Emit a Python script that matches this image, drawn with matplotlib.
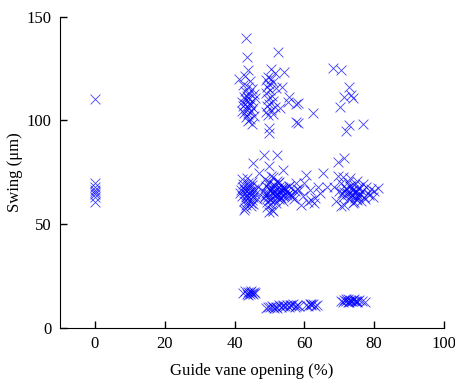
import matplotlib
matplotlib.use("Agg")
import matplotlib.pyplot as plt

# data (guide vane opening %, swing um)
x_zero = [0, 0, 0, 0, 0, 0, 0, 0]
y_zero = [110.5, 70.0, 68.0, 66.5, 65.5, 64.5, 63.0, 60.5]

x_high_a = [43.3, 43.5, 44.0, 41.2, 43.0, 44.5, 42.5, 43.8, 45.0, 43.0,
            44.2, 45.5, 42.8, 44.0, 43.2, 45.0, 44.5, 43.0, 42.5, 44.0,
            45.2, 43.5, 44.8, 42.8, 44.0, 45.5, 43.2, 44.5, 43.8, 45.0,
            42.0, 46.0, 43.6, 44.3, 42.2]
y_high_a = [139.9, 130.4, 124.5, 120.0, 121.5, 119.0, 117.0, 116.0, 115.2, 114.0,
            113.0, 112.5, 111.5, 110.8, 110.0, 109.5, 108.5, 108.0, 107.0, 106.5,
            106.0, 105.0, 104.5, 103.5, 103.0, 102.0, 101.5, 100.5, 99.5, 98.5,
            109.0, 111.0, 112.0, 107.5, 104.5]

x_high_b = [50.5, 51.5, 49.5, 50.5, 49.0, 51.0, 50.0, 49.3, 51.8, 50.2,
            49.0, 50.6, 49.5, 51.0, 50.0, 49.2, 51.5, 50.4, 49.0, 51.0,
            49.5, 50.0, 49.8, 52.4, 52.9, 53.7, 54.3, 55.2, 55.7, 57.6,
            57.6, 58.1, 62.4, 58.1]
y_high_b = [125.0, 123.0, 121.0, 120.0, 119.5, 118.5, 117.5, 116.0, 115.5, 114.5,
            113.0, 112.0, 110.5, 109.5, 108.0, 107.0, 106.5, 105.0, 104.0, 103.0,
            102.6, 96.2, 94.0, 132.8, 106.0, 116.0, 123.5, 109.0, 111.4, 108.0,
            99.4, 108.2, 103.4, 98.6]

x_high_c = [68.1, 70.5, 72.9, 71.5, 73.4, 73.8, 70.3, 72.9, 71.8, 76.9, 69.6, 71.5]
y_high_c = [125.4, 124.3, 116.3, 111.4, 112.3, 111.0, 106.6, 97.8, 94.9, 98.1, 80.0, 81.7]

x_mid_a = [41.5, 42.0, 42.3, 42.8, 43.0, 43.2, 43.5, 43.8, 44.0, 44.2,
           44.5, 44.8, 45.0, 45.3, 45.6, 46.0, 46.4, 42.2, 42.6, 43.1,
           43.6, 44.1, 44.6, 45.1, 45.7, 42.9, 43.4, 44.3, 44.9, 45.4,
           41.8, 46.8, 43.7, 44.7, 42.4]
y_mid_a = [65.0, 63.5, 68.0, 61.0, 66.5, 59.0, 64.0, 70.0, 62.5, 67.5,
           65.5, 60.0, 69.0, 63.0, 66.0, 64.5, 62.0, 71.5, 66.8, 57.5,
           72.0, 68.5, 58.5, 61.5, 67.0, 64.8, 62.8, 65.8, 70.5, 59.8,
           66.2, 67.8, 60.8, 63.8, 69.5]

x_mid_b = [48.2, 48.6, 49.0, 49.3, 49.6, 50.0, 50.3, 50.6, 51.0, 51.3,
           51.6, 52.0, 52.3, 52.6, 53.0, 53.4, 53.8, 54.2, 54.6, 55.0,
           55.5, 56.0, 48.8, 49.4, 49.9, 50.4, 50.9, 51.4, 51.9, 52.4,
           52.9, 53.5, 54.0, 54.8, 55.6, 49.1, 49.7, 50.2, 50.8, 51.2,
           51.8, 52.2, 52.8, 53.2, 53.9, 54.4, 49.5, 50.1, 50.7, 51.5,
           52.5, 53.6, 48.5, 51.1, 52.7, 50.5, 56.5, 57.2]
y_mid_b = [66.0, 63.5, 68.5, 60.5, 65.0, 70.5, 62.0, 67.0, 64.5, 69.0,
           61.5, 66.5, 63.0, 68.0, 65.5, 62.5, 67.5, 64.0, 66.8, 63.8,
           65.2, 64.2, 71.5, 58.0, 67.2, 59.5, 72.5, 65.8, 60.2, 69.8,
           63.2, 67.8, 61.0, 65.4, 68.2, 64.8, 62.8, 66.2, 57.0, 68.8,
           64.6, 71.0, 62.2, 66.6, 63.6, 67.4, 69.4, 61.8, 65.6, 63.4,
           64.4, 66.4, 62.6, 56.5, 70.2, 73.0, 63.0, 66.0]

x_mid_s = [48.4, 52.2, 45.2, 50.0, 47.1, 53.8, 60.5, 42.8, 50.0, 59.0,
           62.0, 57.6, 65.3, 63.8, 62.9, 61.0, 58.6, 66.6, 56.5, 58.0,
           57.0, 60.0, 64.5, 55.5, 59.5, 61.5, 63.0]
y_mid_s = [83.3, 83.3, 79.3, 78.0, 74.5, 76.0, 73.7, 56.8, 56.0, 59.2,
           61.6, 69.7, 74.5, 68.0, 60.0, 60.8, 66.4, 68.0, 64.0, 67.0,
           62.0, 70.0, 65.0, 68.5, 63.5, 66.5, 62.5]

x_mid_c = [68.5, 69.2, 70.0, 70.6, 71.2, 71.8, 72.3, 72.8, 73.2, 73.6,
           74.0, 74.4, 74.8, 75.2, 75.6, 76.0, 76.5, 77.0, 77.6, 78.2,
           79.0, 80.0, 81.2, 71.5, 72.5, 73.0, 73.8, 74.2, 74.6, 75.0,
           75.4, 76.2, 72.0, 73.4, 74.9, 70.4, 71.0, 76.8, 77.4, 78.6,
           69.6, 72.6, 73.7, 75.8, 79.6, 71.4, 74.3, 73.1, 70.8, 75.5]
y_mid_c = [68.0, 61.0, 66.0, 70.0, 63.0, 67.5, 65.0, 62.0, 68.5, 64.0,
           66.5, 63.5, 65.5, 61.5, 67.0, 64.5, 66.0, 63.0, 68.0, 65.0,
           67.0, 66.0, 67.5, 59.0, 70.5, 72.0, 60.0, 69.0, 62.5, 71.0,
           64.0, 61.0, 66.8, 63.8, 65.8, 58.5, 72.5, 69.5, 62.0, 64.0,
           73.0, 64.6, 66.2, 67.8, 62.8, 65.4, 60.5, 68.2, 64.8, 63.2]

x_low_a = [42.5, 43.0, 43.5, 44.0, 44.3, 44.7, 45.0, 45.5, 46.0, 43.8, 44.5, 45.2]
y_low_a = [16.5, 17.5, 16.0, 17.0, 16.2, 17.8, 16.6, 17.2, 16.8, 15.8, 17.4, 16.3]

x_low_b = [49.0, 49.6, 50.2, 50.8, 51.4, 52.0, 52.6, 53.2, 53.8, 54.4,
           55.0, 55.6, 56.2, 56.8, 57.5, 58.0, 58.6, 60.5, 61.0, 61.5,
           62.0, 62.5, 63.0, 63.5, 51.0, 52.3, 54.0, 56.0, 57.2, 61.8]
y_low_b = [9.5, 10.2, 9.8, 10.5, 9.6, 10.0, 10.8, 9.9, 10.4, 10.6,
           11.0, 10.2, 10.8, 11.2, 10.5, 11.0, 10.4, 11.0, 10.6, 11.4,
           10.8, 11.2, 10.6, 11.0, 10.0, 9.7, 10.9, 11.1, 10.1, 11.3]

x_low_c = [70.5, 71.0, 71.5, 72.0, 72.4, 72.8, 73.2, 73.6, 74.0, 74.4,
           74.8, 75.2, 75.8, 76.5, 77.3, 71.8, 72.6, 73.4, 74.2, 75.0]
y_low_c = [13.0, 12.4, 13.4, 12.8, 13.6, 12.6, 13.2, 12.9, 13.5, 12.7,
           13.1, 12.5, 13.3, 12.8, 12.6, 13.8, 12.3, 13.0, 13.7, 12.9]

x_ticks = [0, 20, 40, 60, 80, 100]
y_ticks = [0, 50, 100, 150]

plt.rcParams["font.family"] = ["Liberation Serif", "DejaVu Serif"]

fig = plt.figure(figsize=(4.56, 3.81), dpi=100)
ax = fig.add_axes([0.1316, 0.140, 0.842, 0.816])

grupos = [
    (x_zero, y_zero), (x_high_a, y_high_a), (x_high_b, y_high_b),
    (x_high_c, y_high_c), (x_mid_a, y_mid_a), (x_mid_b, y_mid_b),
    (x_mid_s, y_mid_s), (x_mid_c, y_mid_c), (x_low_a, y_low_a),
    (x_low_b, y_low_b), (x_low_c, y_low_c),
]
for xs, ys in grupos:
    assert len(xs) == len(ys)
    ax.scatter(xs, ys, marker="x", s=50, color="blue", linewidths=0.6, alpha=0.75)

ax.set_xlim(-10, 100)
ax.set_ylim(0, 150)
ax.set_xticks(x_ticks)
ax.set_yticks(y_ticks)
ax.tick_params(direction="in", length=5, width=1, labelsize=12, pad=6)
ax.spines["top"].set_visible(False)
ax.spines["right"].set_visible(False)
ax.set_xlabel("Guide vane opening (%)", fontsize=12, labelpad=8)
ax.set_ylabel("Swing (μm)", fontsize=12, labelpad=3)

fig.savefig("out.png", dpi=100)
